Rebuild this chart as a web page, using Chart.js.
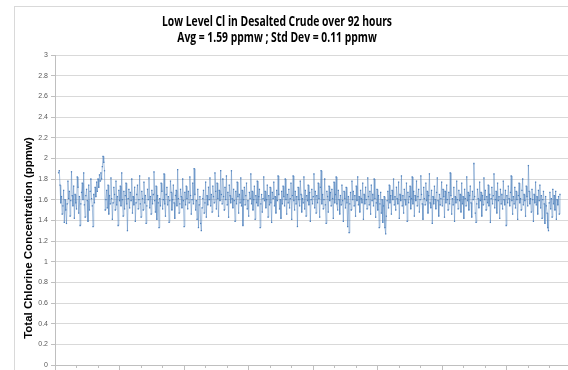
<!DOCTYPE html>
<html>
<head>
<meta charset="utf-8">
<script src="https://cdn.jsdelivr.net/npm/chart.js@4/dist/chart.umd.min.js"></script>
<style>
html, body { margin: 0; padding: 0; background: #fff; overflow: hidden; width: 568px; height: 370px; }
#frame { position: absolute; left: 14px; top: 6px; width: 700px; height: 500px; border-left: 1px solid #d9d9d9; border-top: 1px solid #d9d9d9; }
#c { position: absolute; left: 0; top: 0; }
</style>
</head>
<body>
<div id="frame"></div>
<canvas id="c" width="640" height="400"></canvas>
<script>
const LINE = '#4f81bd';
const AXIS = '#bfbfbf';
const GRID = '#d9d9d9';

const titleLines = ['Low Level Cl in Desalted Crude over 92 hours', 'Avg = 1.59 ppmw ; Std Dev = 0.11 ppmw'];
const yTitle = 'Total Chlorine Concentration (ppmw)';

// y axis range
const yMin = 0, yMax = 3, yStep = 0.2;
// x axis: reading number, major tick every 90, minor every 30
const xMin = 0, xMax = 810, xMajor = 90, xMinor = 30;
const xStart = 5;

// chlorine readings (ppmw) left to right
const chlorine = [
  1.86, 1.88, 1.74, 1.57, 1.63, 1.46, 1.54, 1.69, 1.38, 1.60,
  1.50, 1.37, 1.56, 1.78, 1.61, 1.68, 1.44, 1.59, 1.87, 1.64,
  1.54, 1.73, 1.42, 1.65, 1.57, 1.51, 1.82, 1.72, 1.47, 1.63,
  1.35, 1.56, 1.67, 1.76, 1.60, 1.86, 1.55, 1.43, 1.64, 1.70,
  1.59, 1.39, 1.74, 1.50, 1.68, 1.80, 1.61, 1.54, 1.34, 1.65,
  1.57, 1.72, 1.63, 1.77, 1.68, 1.80, 1.72, 1.84, 1.78, 1.86,
  1.80, 1.92, 2.02, 1.96, 1.88, 1.50, 1.60, 1.69, 1.52, 1.74,
  1.46, 1.64, 1.56, 1.81, 1.61, 1.41, 1.57, 1.72, 1.65, 1.50,
  1.78, 1.55, 1.63, 1.35, 1.69, 1.59, 1.73, 1.54, 1.86, 1.60,
  1.44, 1.68, 1.51, 1.64, 1.76, 1.56, 1.30, 1.61, 1.70, 1.52,
  1.67, 1.59, 1.80, 1.47, 1.63, 1.55, 1.72, 1.39, 1.57, 1.65,
  1.74, 1.51, 1.60, 1.83, 1.56, 1.43, 1.68, 1.61, 1.50, 1.77,
  1.57, 1.64, 1.37, 1.54, 1.70, 1.60, 1.81, 1.52, 1.63, 1.46,
  1.69, 1.56, 1.65, 1.87, 1.59, 1.48, 1.73, 1.41, 1.64, 1.57,
  1.33, 1.61, 1.54, 1.76, 1.68, 1.51, 1.60, 1.85, 1.56, 1.44,
  1.65, 1.72, 1.55, 1.63, 1.38, 1.59, 1.78, 1.67, 1.50, 1.60,
  1.74, 1.57, 1.42, 1.64, 1.69, 1.54, 1.89, 1.61, 1.47, 1.56,
  1.70, 1.63, 1.52, 1.80, 1.59, 1.34, 1.67, 1.55, 1.73, 1.61,
  1.51, 1.68, 1.57, 1.82, 1.64, 1.46, 1.60, 1.76, 1.56, 1.90,
  1.65, 1.50, 1.59, 1.41, 1.70, 1.33, 1.55, 1.63, 1.37, 1.30,
  1.52, 1.61, 1.69, 1.47, 1.57, 1.77, 1.43, 1.64, 1.55, 1.72,
  1.60, 1.81, 1.54, 1.65, 1.48, 1.73, 1.63, 1.57, 1.86, 1.68,
  1.51, 1.76, 1.61, 1.44, 1.69, 1.59, 1.88, 1.65, 1.56, 1.80,
  1.63, 1.50, 1.72, 1.60, 1.83, 1.55, 1.67, 1.43, 1.74, 1.64,
  1.57, 1.88, 1.61, 1.52, 1.70, 1.59, 1.39, 1.68, 1.56, 1.77,
  1.63, 1.47, 1.65, 1.57, 1.81, 1.54, 1.69, 1.35, 1.60, 1.72,
  1.55, 1.64, 1.76, 1.51, 1.59, 1.44, 1.67, 1.61, 1.85, 1.56,
  1.68, 1.50, 1.60, 1.73, 1.41, 1.64, 1.57, 1.78, 1.54, 1.63,
  1.70, 1.33, 1.56, 1.65, 1.48, 1.61, 1.82, 1.59, 1.68, 1.52,
  1.60, 1.74, 1.43, 1.64, 1.55, 1.72, 1.57, 1.38, 1.67, 1.61,
  1.77, 1.54, 1.63, 1.47, 1.69, 1.59, 1.83, 1.65, 1.51, 1.60,
  1.42, 1.68, 1.56, 1.73, 1.63, 1.54, 1.80, 1.60, 1.46, 1.65,
  1.57, 1.70, 1.52, 1.61, 1.76, 1.41, 1.64, 1.83, 1.59, 1.50,
  1.68, 1.56, 1.63, 1.34, 1.72, 1.60, 1.54, 1.78, 1.65, 1.48,
  1.61, 1.57, 1.82, 1.51, 1.69, 1.44, 1.64, 1.59, 1.74, 1.55,
  1.67, 1.39, 1.60, 1.70, 1.56, 1.63, 1.85, 1.52, 1.68, 1.47,
  1.64, 1.57, 1.76, 1.61, 1.43, 1.72, 1.88, 1.56, 1.65, 1.51,
  1.60, 1.80, 1.55, 1.37, 1.68, 1.63, 1.48, 1.73, 1.59, 1.67,
  1.54, 1.70, 1.61, 1.42, 1.77, 1.57, 1.65, 1.82, 1.56, 1.50,
  1.69, 1.60, 1.46, 1.64, 1.55, 1.74, 1.59, 1.39, 1.68, 1.61,
  1.52, 1.72, 1.57, 1.34, 1.63, 1.28, 1.56, 1.67, 1.50, 1.78,
  1.60, 1.68, 1.54, 1.64, 1.44, 1.73, 1.59, 1.82, 1.55, 1.63,
  1.48, 1.69, 1.61, 1.57, 1.76, 1.41, 1.65, 1.56, 1.72, 1.60,
  1.51, 1.81, 1.63, 1.55, 1.68, 1.46, 1.74, 1.59, 1.65, 1.54,
  1.80, 1.61, 1.43, 1.57, 1.70, 1.50, 1.64, 1.33, 1.56, 1.67,
  1.47, 1.60, 1.38, 1.54, 1.63, 1.33, 1.27, 1.44, 1.59, 1.68,
  1.52, 1.74, 1.57, 1.64, 1.46, 1.69, 1.60, 1.80, 1.55, 1.63,
  1.50, 1.72, 1.61, 1.56, 1.77, 1.42, 1.65, 1.59, 1.83, 1.54,
  1.64, 1.47, 1.70, 1.60, 1.55, 1.76, 1.39, 1.67, 1.57, 1.63,
  1.73, 1.51, 1.61, 1.82, 1.56, 1.68, 1.44, 1.64, 1.59, 1.78,
  1.54, 1.63, 1.70, 1.48, 1.60, 1.83, 1.65, 1.56, 1.41, 1.72,
  1.61, 1.55, 1.76, 1.59, 1.68, 1.47, 1.64, 1.85, 1.57, 1.52,
  1.69, 1.37, 1.63, 1.56, 1.73, 1.60, 1.51, 1.67, 1.81, 1.59,
  1.44, 1.65, 1.55, 1.61, 1.77, 1.54, 1.70, 1.63, 1.43, 1.68,
  1.57, 1.74, 1.60, 1.50, 1.67, 1.56, 1.86, 1.64, 1.46, 1.61,
  1.55, 1.72, 1.39, 1.63, 1.57, 1.78, 1.60, 1.51, 1.69, 1.59,
  1.65, 1.48, 1.76, 1.56, 1.63, 1.42, 1.70, 1.61, 1.54, 1.82,
  1.59, 1.67, 1.50, 1.64, 1.73, 1.57, 1.43, 1.68, 1.60, 1.95,
  1.63, 1.47, 1.38, 1.56, 1.70, 1.61, 1.52, 1.77, 1.59, 1.67,
  1.44, 1.64, 1.55, 1.81, 1.60, 1.69, 1.50, 1.63, 1.57, 1.74,
  1.54, 1.65, 1.38, 1.61, 1.72, 1.56, 1.64, 1.85, 1.52, 1.60,
  1.68, 1.47, 1.76, 1.59, 1.63, 1.42, 1.70, 1.56, 1.65, 1.51,
  1.78, 1.60, 1.55, 1.69, 1.35, 1.64, 1.57, 1.73, 1.61, 1.54,
  1.67, 1.83, 1.59, 1.46, 1.63, 1.56, 1.72, 1.52, 1.68, 1.60,
  1.41, 1.64, 1.76, 1.57, 1.61, 1.50, 1.69, 1.80, 1.55, 1.65,
  1.59, 1.44, 1.73, 1.63, 1.54, 1.93, 1.68, 1.56, 1.61, 1.48,
  1.70, 1.60, 1.39, 1.65, 1.57, 1.77, 1.55, 1.63, 1.46, 1.69,
  1.59, 1.74, 1.52, 1.64, 1.42, 1.60, 1.68, 1.56, 1.37, 1.63,
  1.54, 1.47, 1.33, 1.30, 1.57, 1.67, 1.51, 1.61, 1.43, 1.70,
  1.56, 1.64, 1.50, 1.68, 1.41, 1.60, 1.55, 1.63, 1.46, 1.65
];

const points = chlorine.map((v, i) => ({ x: xStart + i, y: v }));

// chart title and y title, drawn on the canvas (title squeezed like the original)
const textPlugin = {
  id: 'texts',
  afterDraw(chart) {
    const ctx = chart.ctx;
    ctx.save();
    ctx.fillStyle = '#000';
    ctx.textAlign = 'center';
    ctx.textBaseline = 'middle';
    ctx.font = 'bold 13.5px "Open Sans"';
    const sx = 230 / ctx.measureText(titleLines[0]).width;
    [22, 38].forEach((y, n) => {
      ctx.save();
      ctx.translate(277, y);
      ctx.scale(sx, 1);
      ctx.fillText(titleLines[n], 0, 0);
      ctx.restore();
    });
    ctx.font = 'bold 11.5px "Liberation Sans"';
    ctx.translate(29, 238);
    ctx.rotate(-Math.PI / 2);
    ctx.fillText(yTitle, 0, 0);
    ctx.restore();
  }
};

new Chart('c', {
  type: 'line',
  data: {
    datasets: [{
      data: points,
      borderColor: LINE,
      backgroundColor: LINE,
      borderWidth: 0.5,
      pointRadius: 0.9,
      pointStyle: 'rect',
      pointBorderWidth: 0,
      tension: 0
    }]
  },
  options: {
    responsive: false,
    animation: false,
    events: [],
    layout: { padding: { top: 55, left: 0, right: 0, bottom: 35 } },
    plugins: { legend: { display: false }, tooltip: { enabled: false } },
    scales: {
      x: {
        type: 'linear', min: xMin, max: xMax,
        ticks: { display: false, stepSize: xMajor },
        grid: { drawOnChartArea: false, tickLength: 5, color: AXIS },
        border: { color: AXIS },
        afterFit(s) { s.height = 0; }
      },
      xMinor: {
        type: 'linear', position: 'bottom', min: xMin, max: xMax,
        ticks: { display: false, stepSize: xMinor },
        grid: { drawOnChartArea: false, tickLength: 3, color: AXIS },
        border: { display: false },
        afterFit(s) { s.height = 0; }
      },
      y: {
        min: yMin, max: yMax,
        ticks: {
          stepSize: yStep,
          font: { size: 7, family: 'Liberation Sans' },
          color: '#595959',
          padding: 3,
          callback: v => String(Math.round(v * 10) / 10)
        },
        grid: { color: GRID, tickLength: 4, tickColor: AXIS },
        border: { color: AXIS },
        afterFit(s) { s.width = 55; }
      }
    }
  },
  plugins: [textPlugin]
});
</script>
</body>
</html>
